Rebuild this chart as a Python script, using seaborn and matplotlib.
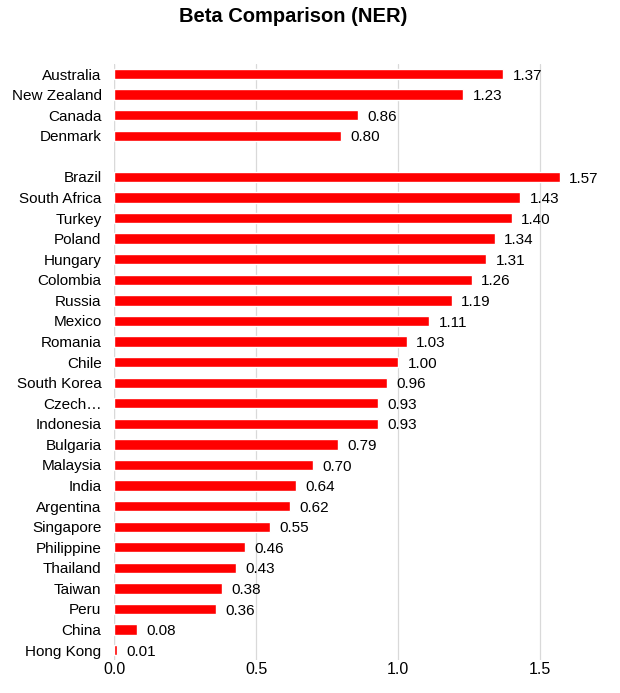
import pandas as pd
import seaborn as sns
import matplotlib.pyplot as plt

# Developed markets (top group) and emerging markets (bottom group)
dm_countries = ["Australia", "New Zealand", "Canada", "Denmark"]
dm_betas = [1.37, 1.23, 0.86, 0.80]

em_countries = ["Brazil", "South Africa", "Turkey", "Poland", "Hungary", "Colombia",
                "Russia", "Mexico", "Romania", "Chile", "South Korea", "Czech…",
                "Indonesia", "Bulgaria", "Malaysia", "India", "Argentina", "Singapore",
                "Philippine", "Thailand", "Taiwan", "Peru", "China", "Hong Kong"]
em_betas = [1.57, 1.43, 1.40, 1.34, 1.31, 1.26, 1.19, 1.11, 1.03, 1.00, 0.96, 0.93,
            0.93, 0.79, 0.70, 0.64, 0.62, 0.55, 0.46, 0.43, 0.38, 0.36, 0.08, 0.01]

df = pd.DataFrame({"Country": dm_countries + em_countries,
                   "Beta": dm_betas + em_betas})
order = dm_countries + [""] + em_countries

sns.set_style("white")
plt.rcParams["font.family"] = ["Liberation Sans", "DejaVu Sans"]
plt.rcParams["text.color"] = "black"
plt.rcParams["xtick.color"] = "black"
plt.rcParams["ytick.color"] = "black"

fig, ax = plt.subplots(figsize=(6.2, 6.93), dpi=100)
fig.subplots_adjust(left=0.184, right=0.99, top=0.908, bottom=0.047)

sns.barplot(data=df, x="Beta", y="Country", order=order, color="#ff0000",
            saturation=1, width=0.5, ax=ax)

for i, c in enumerate(order):
    if c == "":
        continue
    v = df.loc[df["Country"] == c, "Beta"].iloc[0]
    ax.text(v + 0.033, i + 0.08, f"{v:.2f}", va="center", ha="left", fontsize=11)

ax.set_xlim(0, 1.76)
ax.set_ylim(len(order) - 0.5, -0.5)
ax.set_xticks([0, 0.5, 1.0, 1.5])
ax.set_xticklabels(["0.0", "0.5", "1.0", "1.5"])
ax.xaxis.grid(True, color="#d9d9d9", linewidth=0.9)
ax.set_axisbelow(True)
for s in ax.spines.values():
    s.set_visible(False)
ax.axvline(0, color="#d9d9d9", linewidth=0.9, zorder=0)
ax.tick_params(axis="y", length=0, labelsize=11, pad=9)
ax.tick_params(axis="x", length=0, labelsize=11.5, pad=1)
ax.set_xlabel("")
ax.set_ylabel("")
fig.suptitle("Beta Comparison (NER)", x=0.473, y=0.99, fontsize=14.5, fontweight="bold")

plt.savefig("out.png")
